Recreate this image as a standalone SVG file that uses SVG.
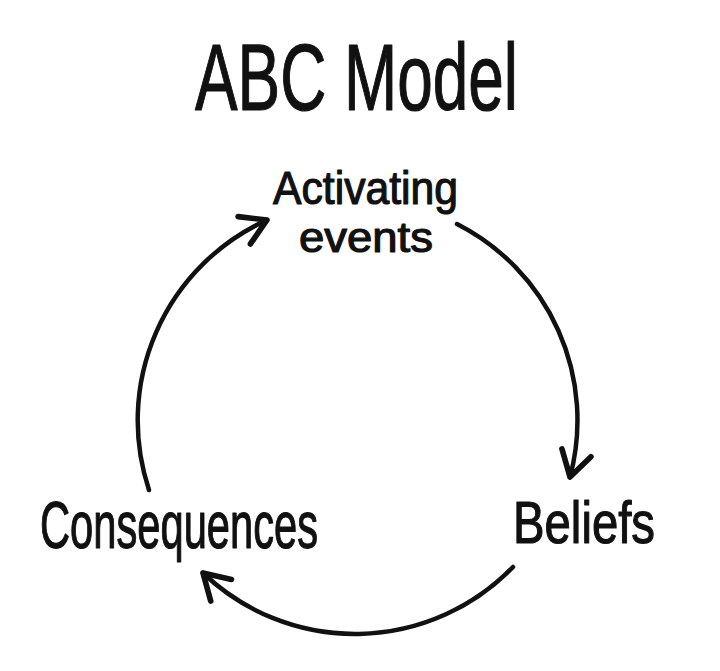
<svg xmlns="http://www.w3.org/2000/svg" width="720" height="671" viewBox="0 0 720 671">
  <style>
    .lbl { font-family: "Liberation Sans Narrow", "Liberation Sans", "DejaVu Sans", sans-serif; fill: #111; stroke: #111; stroke-width: 1.2; stroke-linejoin: round; }
    .arc { fill: none; stroke: #111; stroke-width: 4.5; stroke-linecap: round; marker-end: url(#open); }
  </style>
  <defs>
    <marker id="open" markerUnits="userSpaceOnUse" markerWidth="40" markerHeight="40" viewBox="-24 -16 30 32" refX="0" refY="0" orient="auto">
      <path d="M-20,-12 L0,0 L-20,12" fill="none" stroke="#111" stroke-width="4.5" stroke-linecap="round" stroke-linejoin="round"/>
    </marker>
  </defs>
  <rect width="720" height="671" fill="#ffffff"/>
  <g id="title">
    <text class="lbl" x="195" y="110" font-size="94" textLength="323" lengthAdjust="spacingAndGlyphs">ABC Model</text>
  </g>
  <g id="connectors">
    <path class="arc" d="M457,224 A220,220 0 0 1 570,477"/>
    <path class="arc" d="M513,567 A220,220 0 0 1 203,573"/>
    <path class="arc" d="M149,490 A220,220 0 0 1 267,220"/>
  </g>
  <g id="activating">
    <text class="lbl" x="273" y="204" font-size="47" textLength="185" lengthAdjust="spacingAndGlyphs">Activating</text>
    <text class="lbl" x="299" y="252" font-size="42" textLength="134" lengthAdjust="spacingAndGlyphs">events</text>
  </g>
  <g id="beliefs">
    <text class="lbl" x="513" y="543" font-size="60" textLength="142" lengthAdjust="spacingAndGlyphs">Beliefs</text>
  </g>
  <g id="consequences">
    <text class="lbl" x="40" y="548" font-size="67" textLength="278" lengthAdjust="spacingAndGlyphs">Consequences</text>
  </g>
</svg>
